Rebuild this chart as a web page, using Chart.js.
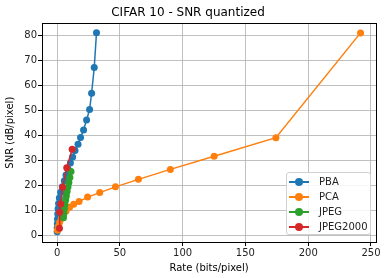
<!DOCTYPE html>
<html><head><meta charset="utf-8">
<script src="https://cdn.jsdelivr.net/npm/chart.js@4"></script>
<style>
html,body{margin:0;padding:0;background:#fff;}
#wrap{position:relative;width:386px;height:278px;font-family:"DejaVu Sans",sans-serif;}
#legend{position:absolute;left:286px;top:172px;width:85px;height:63px;border:1px solid #d0d0d0;border-radius:3px;background:rgba(255,255,255,0.85);box-sizing:border-box;}
.item{position:absolute;left:2px;height:14px;font-size:10px;color:#222;line-height:14px;}
.sym{position:absolute;left:0;top:6px;width:20px;height:2px;}
.dot{position:absolute;left:6px;top:-3px;width:8px;height:8px;border-radius:50%;}
.lab{position:absolute;left:30px;top:0;white-space:nowrap;}
</style></head>
<body><div id="wrap"><canvas id="c" width="386" height="278"></canvas><div id="legend"></div></div>
<script>
const seriesNames = ["PBA", "PCA", "JPEG", "JPEG2000"];
const colors = ["#1f77b4", "#ff7f0e", "#2ca02c", "#d62728"];

const pbaRate = [0.05, 0.1, 0.2, 0.35, 0.55, 0.8, 1.2, 1.8, 2.9, 4.2, 5.8, 7.1, 8.7, 10.6, 12.4, 14.3, 16.7, 18.7, 21.1, 23.5, 25.9, 27.5, 29.6, 31.4];
const pbaSnr  = [1.3, 2.8, 4.5, 6.4, 8.4, 10.5, 12.6, 14.8, 17.1, 19.3, 21.7, 24.0, 26.5, 28.9, 31.3, 33.9, 36.4, 39.1, 42.1, 46.1, 50.3, 56.8, 67.1, 81.1];

const pcaRate = [0.3, 1.0, 2.0, 3.5, 5.2, 7.2, 10.0, 13.2, 17.5, 24.3, 34.0, 46.5, 64.8, 90.2, 125.1, 174.3, 241.7];
const pcaSnr  = [1.9, 3.4, 5.0, 6.6, 8.1, 9.6, 11.1, 12.3, 13.4, 15.2, 17.0, 19.3, 22.3, 26.3, 31.6, 39.0, 81.0];

const jpegRate = [5.1, 5.4, 5.8, 6.3, 6.8, 7.4, 8.0, 8.7, 9.4, 10.2, 11.1];
const jpegSnr  = [6.9, 8.7, 10.5, 12.2, 13.9, 15.6, 17.4, 19.2, 21.0, 23.0, 25.5];

const j2kRate = [1.9, 2.1, 2.9, 4.4, 7.7, 12.0];
const j2kSnr  = [2.7, 9.1, 12.4, 19.1, 27.0, 34.4];

const xTicks = [0, 50, 100, 150, 200, 250];
const yTicks = [0, 10, 20, 30, 40, 50, 60, 70, 80];

const rates = [pbaRate, pcaRate, jpegRate, j2kRate];
const snrs = [pbaSnr, pcaSnr, jpegSnr, j2kSnr];

const datasets = seriesNames.map((n, i) => ({
  label: n,
  data: rates[i].map((x, k) => ({x: x, y: snrs[i][k]})),
  showLine: true,
  borderColor: colors[i],
  backgroundColor: colors[i],
  borderWidth: 1.5,
  pointRadius: 3.5,
  pointBorderWidth: 0,
  pointHoverRadius: 3.5,
  order: 4 - i
}));

const frame = {
  id: 'frame',
  afterDraw(chart) {
    const a = chart.chartArea, ctx = chart.ctx;
    ctx.save();
    ctx.strokeStyle = '#000';
    ctx.lineWidth = 1;
    ctx.strokeRect(Math.round(a.left) + 0.5, Math.round(a.top) + 0.5, Math.round(a.right - a.left), Math.round(a.bottom - a.top));
    ctx.restore();
  }
};

const fontFam = '"DejaVu Sans", sans-serif';
new Chart(document.getElementById('c'), {
  type: 'scatter',
  data: { datasets },
  plugins: [frame],
  options: {
    responsive: false,
    animation: false,
    layout: { padding: { left: 0, right: 10, top: 0, bottom: 0 } },
    plugins: {
      legend: { display: false },
      tooltip: { enabled: false },
      title: {
        display: true, text: 'CIFAR 10 - SNR quantized', color: '#000',
        font: { family: fontFam, size: 12, weight: 'normal' },
        padding: { top: 6, bottom: 3 }
      }
    },
    scales: {
      x: {
        type: 'linear', min: -12, max: 254,
        afterBuildTicks: s => { s.ticks = xTicks.map(v => ({value: v})); },
        afterFit: s => { s.height = 36; },
        ticks: { color: '#222', font: { family: fontFam, size: 10 }, padding: 1, maxRotation: 0, callback: v => String(v) },
        grid: { color: '#b0b0b0', lineWidth: 0.8, tickColor: '#000', tickLength: 4, tickWidth: 1 },
        border: { color: '#000', width: 1 },
        title: { display: true, text: 'Rate (bits/pixel)', color: '#000', font: { family: fontFam, size: 10 }, padding: { top: 2, bottom: 4 } }
      },
      y: {
        type: 'linear', min: -2.8, max: 84.8,
        afterBuildTicks: s => { s.ticks = yTicks.map(v => ({value: v})); },
        afterFit: s => { s.width = 42; },
        ticks: { color: '#222', font: { family: fontFam, size: 10 }, padding: 1, callback: v => String(v) },
        grid: { color: '#b0b0b0', lineWidth: 0.8, tickColor: '#000', tickLength: 4, tickWidth: 1 },
        border: { color: '#000', width: 1 },
        title: { display: true, text: 'SNR (dB/pixel)', color: '#000', font: { family: fontFam, size: 10 }, padding: { top: 4, bottom: 4 } }
      }
    }
  }
});

const leg = document.getElementById('legend');
seriesNames.forEach((n, i) => {
  const it = document.createElement('div');
  it.className = 'item';
  it.style.top = (2 + i * 15) + 'px';
  it.style.width = '80px';
  it.innerHTML = '<span class="sym" style="background:' + colors[i] + '"><span class="dot" style="background:' + colors[i] + '"></span></span><span class="lab">' + n + '</span>';
  leg.appendChild(it);
});
</script></body></html>
